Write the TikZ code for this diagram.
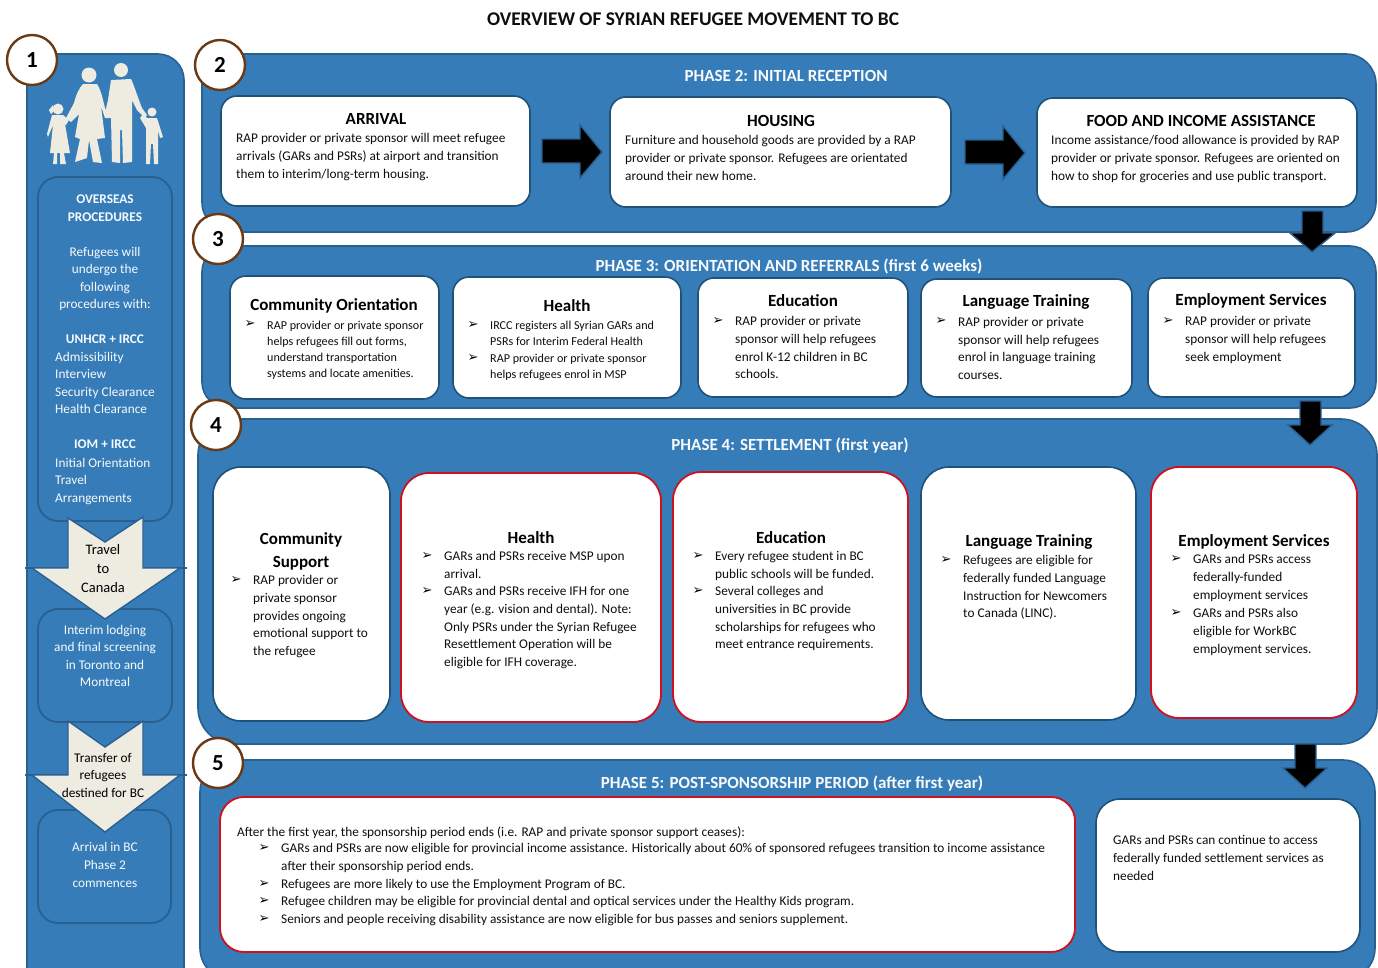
\documentclass[tikz,border=0pt]{standalone}
\usepackage{fontspec}
\setmainfont{Carlito}
\newfontfamily\dejavu{DejaVu Sans}
\usetikzlibrary{fit}
\definecolor{panelblue}{HTML}{357CB8}
\definecolor{paneledge}{HTML}{2A6090}
\definecolor{carddark}{HTML}{1F5278}
\definecolor{cream}{HTML}{EEEBE0}
\definecolor{ringbrown}{HTML}{6B3A14}
\definecolor{redline}{HTML}{D0101C}
\definecolor{paletext}{HTML}{F8FAFC}
\definecolor{ink}{HTML}{0E0E0E}
\tikzset{
  box/.style={rectangle,inner sep=0pt,outer sep=0pt},
  panel/.style={box,draw=paneledge,line width=1.6pt,fill=panelblue},
  whitecard/.style={box,draw=carddark,line width=1.6pt,fill=white,rounded corners=16pt},
  bigcard/.style={whitecard,rounded corners=28pt},
  redcard/.style={bigcard,draw=redline,line width=1.8pt},
  innerbox/.style={box,draw=paneledge,line width=1.8pt,rounded corners=20pt},
  ring/.style={circle,draw=ringbrown,line width=2.4pt,fill=white,minimum size=50pt,inner sep=0pt,font=\fontsize{23}{23}\selectfont\bfseries,text=black},
  phase/.style={font=\fontsize{17}{18}\selectfont\bfseries,text=paletext,inner sep=0pt,yshift=-0.7pt},
  head/.style={font=\fontsize{17}{23}\selectfont\bfseries,text=black,inner sep=0pt,align=center,yshift=-1pt},
  body/.style={font=\fontsize{13.3}{17.6}\selectfont,text=ink,inner sep=0pt,align=left,anchor=north west,yshift=-3.5pt},
  small/.style={font=\fontsize{12.1}{16}\selectfont,text=ink,inner sep=0pt,align=left,anchor=north west,yshift=-4pt},
  side/.style={font=\fontsize{13.3}{17.5}\selectfont,text=paletext,inner sep=0pt,align=center,anchor=north,yshift=-4pt},
  sidehead/.style={side,font=\fontsize{13.3}{17.5}\selectfont\bfseries},
  sideleft/.style={side,align=left,anchor=north west},
  arrowtext/.style={font=\fontsize{14.5}{19}\selectfont,text=black,inner sep=0pt,align=center,anchor=north,yshift=-3pt},
  pointer/.style={font=\dejavu\fontsize{13}{13}\selectfont,text=black,inner sep=0pt},
  blockblack/.style={fill=black,draw=paneledge,line width=1.4pt,line join=miter},
  blockcream/.style={fill=cream,draw=paneledge,line width=1.4pt,line join=miter},
  person/.style={fill=cream,draw=none},
}
\begin{document}
\begin{tikzpicture}[x=1pt,y=-1pt]
\clip (0,0) rectangle (1378,967);
\fill[white] (0,0) rectangle (1378,967);
\node[font=\fontsize{19.4}{20}\selectfont\bfseries,text=ink,inner sep=0pt] (title) at (693,19) {OVERVIEW OF SYRIAN REFUGEE MOVEMENT TO BC};

% big panels
\node[panel,rounded corners=26pt,fit={(27,54)(184,1000)}] (p1) {};
\node[panel,rounded corners=30pt,fit={(202,54)(1376,232)}] (p2) {};
\node[panel,rounded corners=26pt,fit={(202,246)(1376,408)}] (p3) {};
\node[panel,rounded corners=36pt,fit={(198,419)(1377,744)}] (p4) {};
\node[panel,rounded corners=32pt,fit={(200,760)(1375,980)}] (p5) {};

% left inner boxes
\node[innerbox,fit={(38,177)(172,521)}] (over) {};
\node[innerbox,fit={(38,609)(172,722)}] (interim) {};
\node[innerbox,fit={(38,810)(171,923)}] (arrive) {};

% family
\fill[person] (121,70) circle (7);
\fill[person] (89,75) circle (7.5);
\fill[person] (58,109) circle (5.5);
\fill[person] (152,112) circle (4.5);
% man
\fill[person] (111,80) -- (131,79) .. controls (134,85) and (138,98) .. (142,108) -- (147,115) -- (145,118) -- (137,110) -- (132,100) -- (132,162) -- (123,163) -- (122,130) -- (120,130) -- (120,163) -- (112,162) -- (111,118) -- (106,117) -- (105,113) -- (108,100) -- cycle;
% woman
\fill[person] (83,84) -- (97,84) .. controls (101,90) and (103,100) .. (105,108) -- (110,118) -- (105,118) -- (101,106) -- (105,138) -- (97,139) -- (102,163) -- (93,162) -- (89,140) -- (87,158) -- (75,162) -- (80,139) -- (75,137) -- (79,114) -- (71,122) -- (66,118) -- (74,103) .. controls (76,95) and (79,88) .. (83,84) -- cycle;
% girl
\fill[person] (52,115) -- (63,115) -- (69,120) -- (66,125) -- (65,124) -- (70,153) -- (64,153) -- (66,164) -- (60,164) -- (60,153) -- (57,153) -- (57,164) -- (53,164) -- (54,153) -- (50,153) -- (53,125) -- (48,137) -- (47,134) -- cycle;
\fill[person] (53,105) -- (49,110) -- (51,114) -- (54,111) -- cycle;
% boy
\fill[person] (147,118) -- (157,118) -- (163,137) -- (160,138) -- (158,130) -- (158,164) -- (154,164) -- (153,144) -- (151,144) -- (150,164) -- (146,164) -- (146,128) -- (140,118) -- (143,114) -- cycle;

% block arrows on the side
\draw[paneledge,line width=1.2pt] (25,568) coordinate (t1l) -- (187,568) coordinate (t1r);
\draw[blockcream] (68,518) -- (105,542) -- (143,517) -- (143,568) -- (180,568) -- (105,619) -- (32,568) -- (68,568) -- cycle;
\draw[paneledge,line width=1.2pt] (25,775) coordinate (t2l) -- (187,775) coordinate (t2r);
\draw[blockcream] (68,721) -- (105,747) -- (143,721) -- (143,775) -- (180,775) -- (105,832) -- (32,775) -- (68,775) -- cycle;

% black arrows
\draw[blockblack] (542,139) -- (580,139) -- (580,125) -- (602,152) -- (580,178) -- (580,163) -- (542,163) -- cycle;
\draw[blockblack] (965,140) -- (1003,140) -- (1003,126) -- (1025,153) -- (1003,179) -- (1003,164) -- (965,164) -- cycle;
\draw[blockblack] (1302,211) -- (1323,211) -- (1323,233) -- (1335,233) -- (1312,252) -- (1290,233) -- (1302,233) -- cycle;
\draw[blockblack] (1300,401) -- (1321,401) -- (1321,425) -- (1332,425) -- (1310,445) -- (1288,425) -- (1300,425) -- cycle;
\draw[blockblack] (1295,744) -- (1316,744) -- (1316,768) -- (1327,768) -- (1305,788) -- (1283,768) -- (1295,768) -- cycle;

% phase 2 cards
\node[whitecard,fit={(221,96)(530,206)}] (arrival) {};
\node[whitecard,fit={(610,97)(951,207)}] (housing) {};
\node[whitecard,fit={(1037,98)(1357,207)}] (food) {};
% phase 3 cards
\node[whitecard,fit={(230,276)(439,399)}] (c3a) {};
\node[whitecard,fit={(453,277)(681,398)}] (c3b) {};
\node[whitecard,fit={(698,278)(908,397)}] (c3c) {};
\node[whitecard,fit={(921,279)(1132,397)}] (c3d) {};
\node[whitecard,fit={(1148,278)(1355,397)}] (c3e) {};
% phase 4 cards
\node[bigcard,fit={(213,467)(390,721)}] (c4a) {};
\node[redcard,fit={(401,473)(661,722)}] (c4b) {};
\node[redcard,fit={(673,472)(908,722)}] (c4c) {};
\node[bigcard,fit={(921,467)(1136,720)}] (c4d) {};
\node[redcard,fit={(1151,467)(1357,718)}] (c4e) {};
% phase 5 cards
\node[redcard,rounded corners=24pt,fit={(220,797)(1075,952)}] (c5a) {};
\node[bigcard,rounded corners=24pt,fit={(1096,799)(1360,952)}] (c5b) {};

% rings
\node[ring] (n1) at (32,60) {1};
\node[ring] (n2) at (220,65) {2};
\node[ring] (n3) at (218,239) {3};
\node[ring] (n4) at (216,425) {4};
\node[ring] (n5) at (218,763) {5};

% phase titles
\node[phase] (t2) at (786,75) {PHASE 2: INITIAL RECEPTION};
\node[phase] (t3) at (789,266) {PHASE 3: ORIENTATION AND REFERRALS (first 6 weeks)};
\node[phase] (t4) at (790,445) {PHASE 4: SETTLEMENT (first year)};
\node[phase] (t5) at (792,783) {PHASE 5: POST-SPONSORSHIP PERIOD (after first year)};

% side text
\node[sidehead] (s1) at (105,191) {OVERSEAS\\PROCEDURES};
\node[side] (s2) at (105,243) {Refugees will\\undergo the\\following\\procedures with:};
\node[sidehead] (s3) at (105,331) {UNHCR + IRCC};
\node[sideleft] (s4) at (55,348) {Admissibility\\Interview\\Security Clearance\\Health Clearance};
\node[sidehead] (s5) at (105,436) {IOM + IRCC};
\node[sideleft] (s6) at (55,454) {Initial Orientation\\Travel\\Arrangements};
\node[side] (s7) at (105,621) {Interim lodging\\and final screening\\in Toronto and\\Montreal};
\node[side,font=\fontsize{13.3}{18}\selectfont] (s8) at (105,838) {Arrival in BC\\Phase 2\\commences};
\node[arrowtext] (a1) at (103,541) {Travel\\to\\Canada};
\node[arrowtext,font=\fontsize{13.3}{17.5}\selectfont] (a2) at (103,750) {Transfer of\\refugees\\destined for BC};

% phase 2 text
\node[head] (h1) at (376,118) {ARRIVAL};
\node[body] (b1) at (236,130) {RAP provider or private sponsor will meet refugee\\arrivals (GARs and PSRs) at airport and transition\\them to interim/long-term housing.};
\node[head] (h2) at (781,120) {HOUSING};
\node[body] (b2) at (625,132) {Furniture and household goods are provided by a RAP\\provider or private sponsor. Refugees are orientated\\around their new home.};
\node[head] (h3) at (1201,120) {FOOD AND INCOME ASSISTANCE};
\node[body] (b3) at (1051,132) {Income assistance/food allowance is provided by RAP\\provider or private sponsor. Refugees are oriented on\\how to shop for groceries and use public transport.};

% phase 3 text
\node[head] (h4) at (334,305) {Community Orientation};
\node[pointer] (q1) at (250,324) {➢};
\node[small] (b4) at (267,317) {RAP provider or private sponsor\\helps refugees fill out forms,\\understand transportation\\systems and locate amenities.};
\node[head] (h5) at (567,305) {Health};
\node[pointer] (q2) at (473,325) {➢};
\node[small] (b5) at (490,317) {IRCC registers all Syrian GARs and\\PSRs for Interim Federal Health};
\node[pointer] (q3) at (473,358) {➢};
\node[small] (b6) at (490,349.5) {RAP provider or private sponsor\\helps refugees enrol in MSP};
\node[head] (h6) at (803,300) {Education};
\node[pointer] (q4) at (718,321) {➢};
\node[body] (b7) at (735,313) {RAP provider or private\\sponsor will help refugees\\enrol K-12 children in BC\\schools.};
\node[head] (h7) at (1026,301) {Language Training};
\node[pointer] (q5) at (941,321) {➢};
\node[body] (b8) at (958,313.5) {RAP provider or private\\sponsor will help refugees\\enrol in language training\\courses.};
\node[head] (h8) at (1251,300) {Employment Services};
\node[pointer] (q6) at (1168,321) {➢};
\node[body] (b9) at (1185,313) {RAP provider or private\\sponsor will help refugees\\seek employment};

% phase 4 text
\node[head] (h9) at (301,550) {Community\\Support};
\node[pointer] (q7) at (236,580) {➢};
\node[body] (b10) at (253,572) {RAP provider or\\private sponsor\\provides ongoing\\emotional support to\\the refugee};
\node[head] (h10) at (531,537) {Health};
\node[pointer] (q8) at (427,556) {➢};
\node[body] (b11) at (444,548) {GARs and PSRs receive MSP upon\\arrival.};
\node[pointer] (q9) at (427,591) {➢};
\node[body] (b12) at (444,583) {GARs and PSRs receive IFH for one\\year (e.g. vision and dental). Note:\\Only PSRs under the Syrian Refugee\\Resettlement Operation will be\\eligible for IFH coverage.};
\node[head] (h11) at (791,537) {Education};
\node[pointer] (q10) at (698,556) {➢};
\node[body] (b13) at (715,548) {Every refugee student in BC\\public schools will be funded.};
\node[pointer] (q11) at (698,591) {➢};
\node[body] (b14) at (715,583) {Several colleges and\\universities in BC provide\\scholarships for refugees who\\meet entrance requirements.};
\node[head] (h12) at (1029,541) {Language Training};
\node[pointer] (q12) at (946,560) {➢};
\node[body] (b15) at (963,552) {Refugees are eligible for\\federally funded Language\\Instruction for Newcomers\\to Canada (LINC).};
\node[head] (h13) at (1254,541) {Employment Services};
\node[pointer] (q13) at (1176,559) {➢};
\node[body] (b16) at (1193,551) {GARs and PSRs access\\federally-funded\\employment services};
\node[pointer] (q14) at (1176,613) {➢};
\node[body] (b17) at (1193,605) {GARs and PSRs also\\eligible for WorkBC\\employment services.};

% phase 5 text
\node[body] (b18) at (237,823) {After the first year, the sponsorship period ends (i.e. RAP and private sponsor support ceases):};
\node[pointer] (q15) at (264,848) {➢};
\node[body] (b19) at (281,840) {GARs and PSRs are now eligible for provincial income assistance. Historically about 60\% of sponsored refugees transition to income assistance\\after their sponsorship period ends.};
\node[pointer] (q16) at (264,884) {➢};
\node[body] (b20) at (281,876) {Refugees are more likely to use the Employment Program of BC.};
\node[pointer] (q17) at (264,901) {➢};
\node[body] (b21) at (281,893) {Refugee children may be eligible for provincial dental and optical services under the Healthy Kids program.};
\node[pointer] (q18) at (264,919) {➢};
\node[body] (b22) at (281,911) {Seniors and people receiving disability assistance are now eligible for bus passes and seniors supplement.};
\node[body] (b23) at (1113,832) {GARs and PSRs can continue to access\\federally funded settlement services as\\needed};
\end{tikzpicture}
\end{document}
